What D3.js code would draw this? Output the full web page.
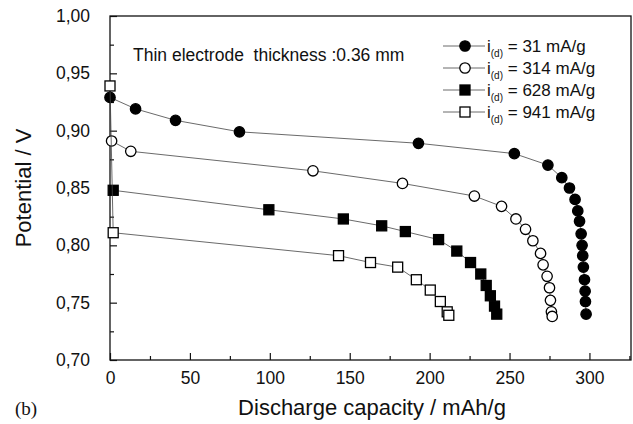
<!DOCTYPE html>
<html>
<head>
<meta charset="utf-8">
<script src="https://cdn.jsdelivr.net/npm/d3@7"></script>
<style>
  body { margin: 0; background: #fff; }
  text { font-family: "Liberation Sans", Arial, sans-serif; fill: #111; }
</style>
</head>
<body>
<div id="chart"></div>
<script>
/**
 * DATA
 * */
const cap31 = [0, 16, 41, 81, 193, 253, 274, 282.7, 287.5, 291, 292.7, 293.8, 294.8, 295.4, 295.8, 296.2, 296.9, 297.3, 297.5, 297.9];
const pot31 = [0.929, 0.919, 0.909, 0.899, 0.889, 0.880, 0.870, 0.859, 0.850, 0.840, 0.830, 0.821, 0.810, 0.800, 0.791, 0.781, 0.770, 0.760, 0.751, 0.740];

const cap314 = [1, 13, 127, 183, 228, 245, 254, 260, 264.6, 269.4, 271, 273.5, 275, 275.6, 276.2, 276.7];
const pot314 = [0.891, 0.882, 0.865, 0.854, 0.843, 0.834, 0.823, 0.814, 0.804, 0.793, 0.783, 0.773, 0.763, 0.752, 0.742, 0.738];

const cap628 = [2, 99.4, 146, 170, 184.8, 205.6, 217, 225.6, 232, 235.4, 238, 240.6, 242];
const pot628 = [0.848, 0.831, 0.823, 0.817, 0.812, 0.805, 0.795, 0.785, 0.775, 0.765, 0.756, 0.747, 0.740];

const cap941 = [0, 2, 143, 163, 180, 191.7, 200.4, 206.7, 211, 212];
const pot941 = [0.939, 0.811, 0.791, 0.785, 0.781, 0.770, 0.761, 0.751, 0.742, 0.739];

const seriesNames = ["31", "314", "628", "941"];
const xTicks = [0, 50, 100, 150, 200, 250, 300];
const yTicks = [0.70, 0.75, 0.80, 0.85, 0.90, 0.95, 1.00];

/**
 * CONSTANTS
 * */
const width = 633,
    height = 424,
    margin = { top: 16, right: 2, bottom: 64, left: 110 };

const series = [
    { name: seriesNames[0], cap: cap31, pot: pot31, shape: "circle", fill: "#000" },
    { name: seriesNames[1], cap: cap314, pot: pot314, shape: "circle", fill: "#fff" },
    { name: seriesNames[2], cap: cap628, pot: pot628, shape: "square", fill: "#000" },
    { name: seriesNames[3], cap: cap941, pot: pot941, shape: "square", fill: "#fff" },
];

const svg = d3.select("#chart").append("svg")
    .attr("width", width)
    .attr("height", height);

const x = d3.scaleLinear().domain([0, 326]).range([margin.left, width - margin.right]);
const y = d3.scaleLinear().domain([0.70, 1.00]).range([height - margin.bottom, margin.top]);

const fmt = d => d3.format(".2f")(d).replace(".", ",");

// x axis - ticks point inward
const xAxis = svg.append("g")
    .attr("transform", `translate(0,${y(0.70)})`)
    .call(d3.axisBottom(x).tickValues(xTicks).tickSizeInner(-7).tickSizeOuter(0).tickPadding(12));
xAxis.append("g")
    .call(d3.axisBottom(x).tickValues(d3.range(25, 326, 50)).tickSizeInner(-4).tickSizeOuter(0).tickFormat(""));

// y axis
const yAxis = svg.append("g")
    .attr("transform", `translate(${x(0)},0)`)
    .call(d3.axisLeft(y).tickValues(yTicks).tickFormat(fmt).tickSizeInner(-7).tickSizeOuter(0).tickPadding(20));
yAxis.append("g")
    .call(d3.axisLeft(y).tickValues(d3.range(0.725, 1.0, 0.05)).tickSizeInner(-4).tickSizeOuter(0).tickFormat(""));

svg.selectAll(".domain").remove();
svg.selectAll(".tick line").attr("stroke", "#111").attr("stroke-width", 1.2);
svg.selectAll(".tick text").style("font-size", "17.5px").attr("fill", "#111");

// frame
svg.append("rect")
    .attr("x", x(0))
    .attr("y", y(1.0))
    .attr("width", x(326) - x(0))
    .attr("height", y(0.70) - y(1.0))
    .attr("fill", "none")
    .attr("stroke", "#111")
    .attr("stroke-width", 1.3);

// lines + markers
const line = d3.line().x(d => x(d[0])).y(d => y(d[1]));

function marker(g, shape, fill, cx, cy) {
    if (shape === "circle") {
        g.append("circle").attr("cx", cx).attr("cy", cy).attr("r", 5.2)
            .attr("fill", fill).attr("stroke", "#000").attr("stroke-width", 1.3);
    } else {
        g.append("rect").attr("x", cx - 5).attr("y", cy - 5).attr("width", 10).attr("height", 10)
            .attr("fill", fill).attr("stroke", "#000").attr("stroke-width", 1.3);
    }
}

series.forEach(s => {
    const pts = s.cap.map((c, i) => [c, s.pot[i]]);
    svg.append("path")
        .datum(pts)
        .attr("d", line)
        .attr("fill", "none")
        .attr("stroke", "#444")
        .attr("stroke-width", 0.8);
    const g = svg.append("g");
    pts.forEach(p => marker(g, s.shape, s.fill, x(p[0]), y(p[1])));
});

// note text (double space kept)
svg.append("text")
    .attr("x", 133)
    .attr("y", 61)
    .style("font-size", "17.5px")
    .style("white-space", "pre")
    .text("Thin electrode  thickness :0.36 mm");

// legend
const legend = svg.append("g");
series.forEach((s, i) => {
    const ly = 46 + i * 22;
    legend.append("line").attr("x1", 443).attr("x2", 485).attr("y1", ly).attr("y2", ly)
        .attr("stroke", "#444").attr("stroke-width", 0.8);
    marker(legend, s.shape, s.fill, 465, ly);
    const t = legend.append("text").attr("x", 487).attr("y", ly + 6).style("font-size", "17px");
    t.append("tspan").text("i");
    t.append("tspan").attr("dy", 5).style("font-size", "10px").text("(d)");
    t.append("tspan").attr("dy", -5).text(` = ${s.name} mA/g`);
});

// axis titles
svg.append("text")
    .attr("transform", `translate(31,${(y(0.70) + y(1.0)) / 2}) rotate(-90)`)
    .attr("text-anchor", "middle")
    .style("font-size", "22px")
    .text("Potential / V");

svg.append("text")
    .attr("x", 372)
    .attr("y", 415)
    .attr("text-anchor", "middle")
    .style("font-size", "22px")
    .text("Discharge capacity / mAh/g");

svg.append("text")
    .attr("x", 15)
    .attr("y", 415)
    .style("font-family", "'Liberation Serif', serif")
    .style("font-size", "19px")
    .text("(b)");
</script>
</body>
</html>
